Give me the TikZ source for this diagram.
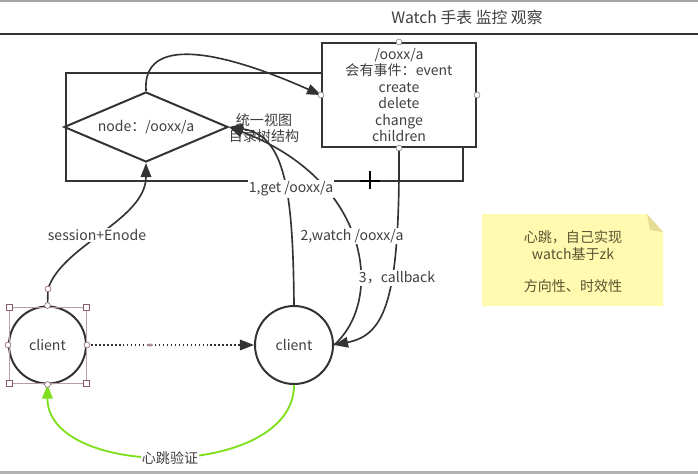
\documentclass[tikz,border=0pt]{standalone}
\usepackage{fontspec}
\setmainfont{Noto Sans CJK SC}
\usetikzlibrary{arrows.meta, shapes.geometric, positioning}
\definecolor{ink}{HTML}{333333}
\definecolor{txtgray}{HTML}{404040}
\definecolor{selpink}{HTML}{8C5A6E}
\definecolor{beatgreen}{HTML}{80E020}
\definecolor{noteyellow}{HTML}{FFFAAF}
\definecolor{notefold}{HTML}{E6DC98}
\definecolor{notetext}{HTML}{5A5432}

\tikzset{
  txt/.style={font=\fontsize{12}{14}\selectfont, text=txtgray},
  outline/.style={draw=ink, line width=1.7pt, fill=white},
  conn/.style={draw=ink, line width=1.4pt, -{Triangle[length=12pt,width=9pt]}},
  lbl/.style={txt, fill=white, inner sep=1pt},
  port/.style={circle, draw=gray, fill=white, line width=0.5pt, minimum size=5pt, inner sep=0pt},
  grip/.style={draw=selpink, fill=white, line width=0.5pt, minimum size=5pt, inner sep=0pt},
}

\begin{document}
\begin{tikzpicture}[x=0.03cm, y=-0.03cm]
\useasboundingbox (0,0) rectangle (698,474);
\draw[gray!70, line width=1pt] (0,1) -- (698,1);
\draw[ink, line width=1.5pt] (0,34) -- (698,34);
\fill[gray!60] (0,471) rectangle (698,474);
\node[txt, font=\fontsize{13.5}{16}\selectfont] (title) at (467,17) {Watch 手表 监控 观察};

\draw[ink, line width=1.7pt] (66,73) rectangle (463,181);
\node[outline, txt, minimum width=4.62cm, minimum height=3.12cm, align=center] (box) at (399,95) {/ooxx/a\\会有事件：event\\create\\delete\\change\\children};
\node[outline, txt, diamond, aspect=2.5, inner sep=0pt, minimum width=4.92cm, minimum height=2.1cm] (dia) at (146,127) {node：/ooxx/a};
\node[txt, align=center] (view) at (264,128) {统一视图\\目录树结构};

\node[outline, txt, circle, minimum size=2.31cm] (c1) at (47.5,345) {client};
\node[outline, txt, circle, minimum size=2.34cm] (c2) at (294,345) {client};

\coordinate (grab) at (48,289);
\draw[conn] (c1.north) -- (grab) .. controls (62,245) and (146,220) .. (dia.south);
\draw[conn] (dia.north) .. controls (142,35) and (220,50) .. (box.west);
\draw[conn] (c2.north) .. controls (293,190) and (285,135) .. (dia.east);
\draw[conn] (c2.east) .. controls (385,300) and (370,180) .. (dia.east);
\draw[conn] (box.south) .. controls (400,300) and (385,335) .. (c2.east);
\draw[ink, line width=1.4pt, dotted, -{Triangle[length=12pt,width=9pt]}] (c1.east) -- (c2.west);
\fill[selpink!70] (150,345) ellipse (3 and 1.5);
\draw[beatgreen, line width=1.6pt, -{Triangle[length=12pt,width=9pt]}] (c2.south) .. controls (294,480) and (47,480) .. (c1.south);

\node[lbl] (sess) at (97,235) {session+Enode};
\node[lbl] (get) at (291,189) {1,get /ooxx/a};
\node[lbl] (watch) at (352,236) {2,watch /ooxx/a};
\node[lbl] (cb) at (397,278) {3，callback};
\node[lbl] (beat) at (170,458) {心跳验证};

\draw[selpink!60, line width=0.4pt] (9,307) rectangle (86,383);
\foreach \p [count=\i] in {(9,307),(86,307),(9,383),(86,383)}
  \node[grip] (g\i) at \p {};
\foreach \a in {north,south,east,west}
  \node[port, draw=selpink] (c1\a) at (c1.\a) {};
\node[port, draw=selpink] (grabport) at (grab) {};
\foreach \a in {north,south,east,west}
  \node[port] (box\a) at (box.\a) {};

\fill[noteyellow] (482,214) -- (647,214) -- (663,232) -- (663,306) -- (482,306) -- cycle;
\fill[notefold] (647,214) -- (663,232) -- (650,230) -- cycle;
\node[txt, text=notetext, align=center] (note) at (573,262) {心跳，自己实现\\watch基于zk\\[14pt]方向性、时效性};

\draw[black, line width=1pt] (360,181) -- (380,181) (370,171) -- (370,189);
\end{tikzpicture}
\end{document}
